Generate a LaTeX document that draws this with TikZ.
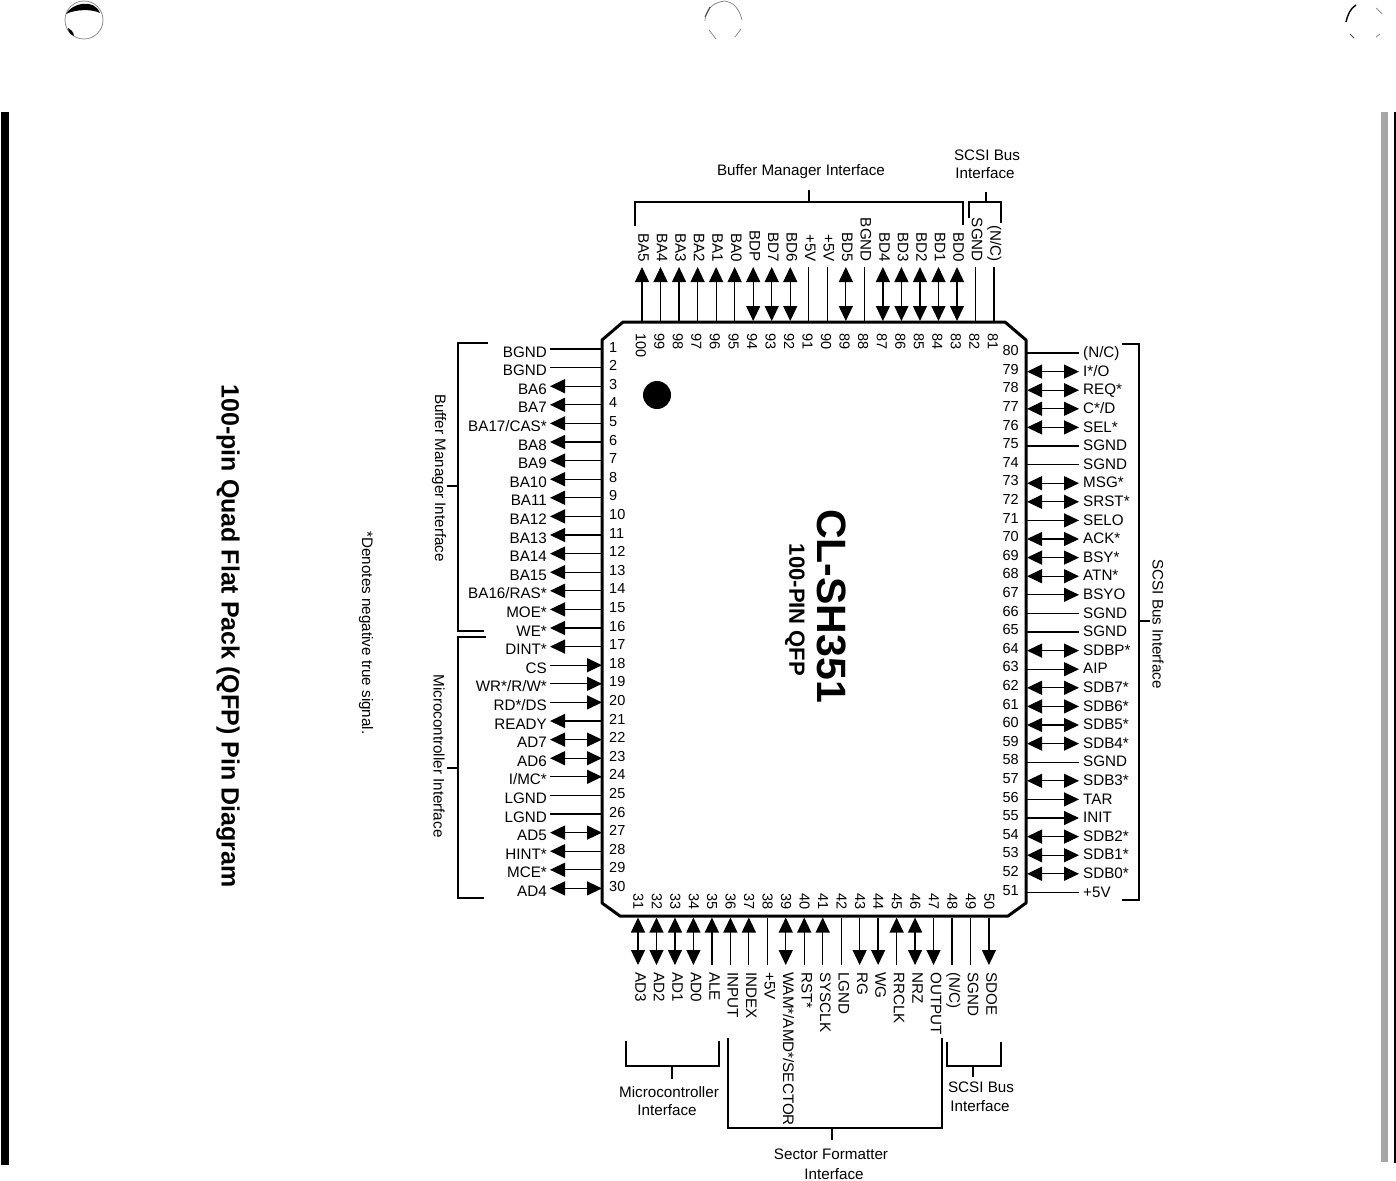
\documentclass[tikz,border=0pt]{standalone}
\usepackage{fontspec}
\setmainfont{Liberation Sans}
\usetikzlibrary{arrows.meta}
\tikzset{every node/.style={inner sep=0pt, font=\fontsize{15.2}{17}\selectfont},
  wire/.style={line width=1.25pt},
  sigplain/.style={wire},
  sigout/.style={wire,-{Triangle[length=15pt,width=14pt]}},
  sigin/.style={wire,{Triangle[length=15pt,width=14pt]}-},
  sigboth/.style={wire,{Triangle[length=15pt,width=14pt]}-{Triangle[length=15pt,width=14pt]}},
  brace/.style={line width=1.3pt},
  hole/.style={black!50,line width=.7pt},
  pinno/.style={font=\fontsize{14.5}{16}\selectfont},
  downtext/.style={rotate=-90}}
\begin{document}
\begin{tikzpicture}[x=1pt,y=-1pt]
   \useasboundingbox (0,0) rectangle (1396,1180);
   \fill[white] (0,0) rectangle (1396,1180);
   \fill (1,112) rectangle (9,1165);
   \fill (1394,112) rectangle (1396,1163);
   \fill[black!35] (1381,112) rectangle (1388,1162);
   \draw[hole] (84,20) circle (19pt);
   \fill (66,14) .. controls (72,3) and (94,-2) .. (100,13) .. controls (92,9) and (76,9) .. (66,14);
   \fill (68,28) .. controls (70,29) and (74,32) .. (74,36) .. controls (71,35) and (68,32) .. (68,28);
   \draw[hole] (705,21) .. controls (705,10) and (713,2) .. (725,1) .. controls (732,2) and (739,7) .. (742,20);
   \draw[line width=1.1pt,black!70] (705,17) -- (710,7);
   \draw[hole] (709,30) -- (716,39);
   \draw[hole] (735,37) -- (741,29);
   \draw[line width=1.4pt] (1346,22) .. controls (1348,14) and (1350,9) .. (1356,5);
   \draw[hole] (1376,8) -- (1382,14);
   \draw[black!70,line width=1pt] (1350,34) -- (1354,38);
   \draw[hole] (1376,37) -- (1380,34);

   \draw[line width=3pt,line join=round] (623,322) -- (1005,322) -- (1026,340) -- (1026,903)
     -- (1008,916) -- (620,916) -- (602,903) -- (602,340) -- cycle;
   \fill (657,395) circle (14pt);
   \node (chipname) at (832,606) [downtext,font=\fontsize{41}{41}\selectfont\bfseries] {CL-SH351};
   \node (chiptype) at (795,610) [downtext,font=\fontsize{22}{22}\selectfont\bfseries] {100-PIN QFP};
   \node (title) at (228,636) [downtext,font=\fontsize{25}{25}\selectfont\bfseries] {100-pin Quad Flat Pack (QFP) Pin Diagram};
   \node (note) at (366,633) [downtext] {*Denotes negative true signal.};

   \foreach \n/\t/\s in {1/BGND/sigplain,2/BGND/sigplain,3/BA6/sigout,4/BA7/sigout,5/{BA17/CAS*}/sigout,
     6/BA8/sigout,7/BA9/sigout,8/BA10/sigout,9/BA11/sigout,10/BA12/sigout,11/BA13/sigout,12/BA14/sigout,
     13/BA15/sigout,14/{BA16/RAS*}/sigout,15/MOE*/sigout,16/WE*/sigout,17/DINT*/sigout,18/CS/sigin,
     19/{WR*/R/W*}/sigin,20/{RD*/DS}/sigin,21/READY/sigout,22/AD7/sigboth,23/AD6/sigboth,24/{I/MC*}/sigin,
     25/LGND/sigplain,26/LGND/sigplain,27/AD5/sigboth,28/HINT*/sigout,29/MCE*/sigout,30/AD4/sigboth} {
     \coordinate (p\n) at (602,{349+18.6*(\n-1)});
     \coordinate (e\n) at (550,{349+18.6*(\n-1)});
     \node (t\n) at (547,{354.5+18.6*(\n-1)}) [anchor=mid east] {\t};
     \node (k\n) at (609,{349.5+18.6*(\n-1)}) [pinno,anchor=mid west] {\n};
     \draw[\s] (p\n) -- (e\n);
   }
   \foreach \n/\t/\s in {80/{(N/C)}/sigplain,79/{I*/O}/sigboth,78/REQ*/sigboth,77/{C*/D}/sigboth,76/SEL*/sigboth,
     75/SGND/sigplain,74/SGND/sigplain,73/MSG*/sigboth,72/SRST*/sigboth,71/SELO/sigout,70/ACK*/sigboth,
     69/BSY*/sigboth,68/ATN*/sigboth,67/BSYO/sigout,66/SGND/sigplain,65/SGND/sigplain,64/SDBP*/sigboth,
     63/AIP/sigout,62/SDB7*/sigboth,61/SDB6*/sigboth,60/SDB5*/sigboth,59/SDB4*/sigboth,58/SGND/sigplain,
     57/SDB3*/sigboth,56/TAR/sigout,55/INIT/sigout,54/SDB2*/sigboth,53/SDB1*/sigboth,52/SDB0*/sigboth,51/+5V/sigplain} {
     \coordinate (p\n) at (1027,{353+18.6*(80-\n)});
     \coordinate (e\n) at (1079,{353+18.6*(80-\n)});
     \node (t\n) at (1083,{355+18.6*(80-\n)}) [anchor=mid west] {\t};
     \node (k\n) at (1019,{353+18.6*(80-\n)}) [pinno,anchor=mid east] {\n};
     \draw[\s] (p\n) -- (e\n);
   }
   \foreach \n/\t/\s in {100/BA5/sigout,99/BA4/sigout,98/BA3/sigout,97/BA2/sigout,96/BA1/sigout,95/BA0/sigout,
     94/BDP/sigboth,93/BD7/sigboth,92/BD6/sigboth,91/+5V/sigplain,90/+5V/sigplain,89/BD5/sigboth,88/BGND/sigplain,
     87/BD4/sigboth,86/BD3/sigboth,85/BD2/sigboth,84/BD1/sigboth,83/BD0/sigboth,82/SGND/sigplain,81/{(N/C)}/sigplain} {
     \coordinate (p\n) at ({642+18.53*(100-\n)},321);
     \coordinate (e\n) at ({642+18.53*(100-\n)},267);
     \node (t\n) at ({641+18.53*(100-\n)},262) [downtext,anchor=mid east] {\t};
     \node (k\n) at ({638.5+18.53*(100-\n)},333) [pinno,downtext,anchor=mid west] {\n};
     \draw[\s] (p\n) -- (e\n);
   }
   \foreach \n/\t/\s in {31/AD3/sigboth,32/AD2/sigboth,33/AD1/sigboth,34/AD0/sigboth,35/ALE/sigin,36/INPUT/sigin,
     37/INDEX/sigin,38/+5V/sigplain,39/{WAM*/AMD*/SECTOR}/sigboth,40/RST*/sigin,41/SYSCLK/sigin,42/LGND/sigplain,
     43/RG/sigout,44/WG/sigout,45/RRCLK/sigin,46/NRZ/sigboth,47/OUTPUT/sigout,48/{(N/C)}/sigplain,49/SGND/sigplain,50/SDOE/sigout} {
     \coordinate (p\n) at ({638+18.47*(\n-31)},917.5);
     \coordinate (e\n) at ({638+18.47*(\n-31)},965);
     \node (t\n) at ({638+18.47*(\n-31)},972) [downtext,anchor=mid west] {\t};
     \node (k\n) at ({636+18.47*(\n-31)},910) [pinno,downtext,anchor=mid east] {\n};
     \draw[\s] (p\n) -- (e\n);
   }

   \draw[brace] (635,226) -- (635,202) -- (963,202) -- (963,225) (809,202) -- (809,190);
   \node (topbuf) at (801,172) {Buffer Manager Interface};
   \draw[brace] (969,218) -- (969,202) -- (1001,202) -- (1001,223) (986,202) -- (986,192);
   \node (topscsi) at (987,155) {SCSI Bus};
   \node (topscsib) at (985,173) {Interface};

   \draw[brace] (488,343) -- (458,343) -- (458,631) -- (484,631) (458,486) -- (447,486);
   \node (leftbuf) at (439,478) [downtext] {Buffer Manager Interface};
   \draw[brace] (486,637) -- (458,637) -- (458,898) -- (484,898) (458,768) -- (447,768);
   \node (leftmicro) at (439,756) [downtext] {Microcontroller Interface};

   \draw[brace] (1122,344) -- (1139,344) -- (1139,900) -- (1122,900) (1139,621) -- (1150,621);
   \node (rightscsi) at (1158,624) [downtext] {SCSI Bus Interface};

   \draw[brace] (626,1041) -- (626,1066) -- (719,1066) -- (719,1041) (672,1066) -- (672,1079);
   \node (botmicro) at (669,1092) {Microcontroller};
   \node (botmicrob) at (667,1110) {Interface};
   \draw[brace] (728,1038) -- (728,1128) -- (942,1128) -- (942,1038) (832,1128) -- (832,1140);
   \node (botsector) at (831,1154) {Sector Formatter};
   \node (botsectorb) at (834,1174) {Interface};
   \draw[brace] (947,1042) -- (947,1066) -- (1001,1066) -- (1001,1042) (973,1066) -- (973,1077);
   \node (botscsi) at (981,1087) {SCSI Bus};
   \node (botscsib) at (980,1106) {Interface};
\end{tikzpicture}
\end{document}
